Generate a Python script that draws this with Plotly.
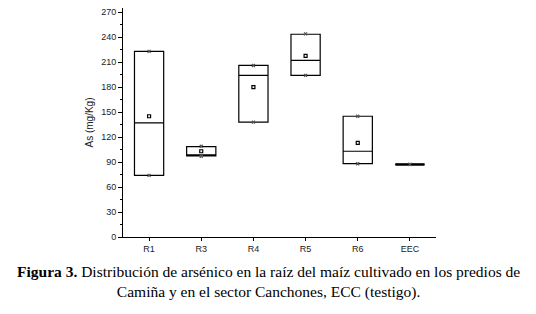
import plotly.graph_objects as go

categories = ["R1", "R3", "R4", "R5", "R6", "EEC"]
q1 = [74, 97.5, 138, 194, 88, 87.2]
median = [137, 97.5, 194, 212, 103, 87.2]
q3 = [223, 108.5, 206, 243.5, 145, 87.2]
mean = [145, 103, 180, 217.5, 113, 87.2]
minimum = [74, 97, 138, 194, 88, 87.2]
maximum = [223, 109, 206, 244, 145, 87.2]
yticks = list(range(0, 271, 30))

fig = go.Figure()
fig.add_trace(go.Box(
    x=categories, q1=q1, median=median, q3=q3,
    lowerfence=q1, upperfence=q3,
    fillcolor="rgba(0,0,0,0)", line=dict(color="black", width=1.2),
    boxpoints=False, whiskerwidth=0, showlegend=False, hoverinfo="skip",
))
# thicker flat box for EEC
fig.add_trace(go.Box(
    x=categories[-1:], q1=q1[-1:], median=median[-1:], q3=q3[-1:],
    lowerfence=q1[-1:], upperfence=q3[-1:],
    fillcolor="rgba(0,0,0,0)", line=dict(color="black", width=2.5),
    boxpoints=False, whiskerwidth=0, showlegend=False, hoverinfo="skip",
))
fig.add_trace(go.Scatter(
    x=categories + categories, y=minimum + maximum, mode="markers",
    marker=dict(symbol="x-thin", size=3, line=dict(color="#555", width=1.2)),
    showlegend=False, hoverinfo="skip",
))
fig.add_trace(go.Scatter(
    x=categories[:-1], y=mean[:-1], mode="markers",
    marker=dict(symbol="square-open", size=3, color="black", line=dict(color="black", width=1.2)),
    showlegend=False, hoverinfo="skip",
))

fig.update_layout(
    width=536, height=314,
    margin=dict(l=123, r=100, t=8, b=77, autoexpand=False),
    paper_bgcolor="white", plot_bgcolor="white",
    boxgap=0.2, boxmode="overlay",
    font=dict(family="Liberation Sans, Arial", size=9, color="#222"),
    xaxis=dict(
        type="category", categoryorder="array", categoryarray=categories,
        range=[-0.5, 5.5], showline=True, linecolor="black", linewidth=1,
        ticks="outside", ticklen=3, tickcolor="black", showgrid=False, zeroline=False,
        tickfont=dict(size=9),
    ),
    yaxis=dict(
        range=[0, 275], tickvals=yticks, showline=True, linecolor="black", linewidth=1,
        ticks="outside", ticklen=4, tickcolor="black", showgrid=False, zeroline=False,
        minor=dict(ticks="outside", dtick=15, ticklen=2, tickcolor="black"),
        title=dict(text="As (mg/Kg)", font=dict(size=10), standoff=5),
        tickfont=dict(size=9),
    ),
    annotations=[
        dict(
            text="<b>Figura 3.</b> Distribución de arsénico en la raíz del maíz cultivado en los predios de<br>Camiña y en el sector Canchones, ECC (testigo).",
            xref="paper", yref="paper", x=0.465, y=-0.198, xanchor="center", yanchor="middle",
            showarrow=False, align="center",
            font=dict(family="Liberation Serif, Times New Roman", size=15.5, color="black"),
        )
    ],
)

fig.write_html(
    "out.html",
    config={"displayModeBar": False},
    post_script="document.body.style.margin='0';document.body.style.overflow='hidden';",
)
